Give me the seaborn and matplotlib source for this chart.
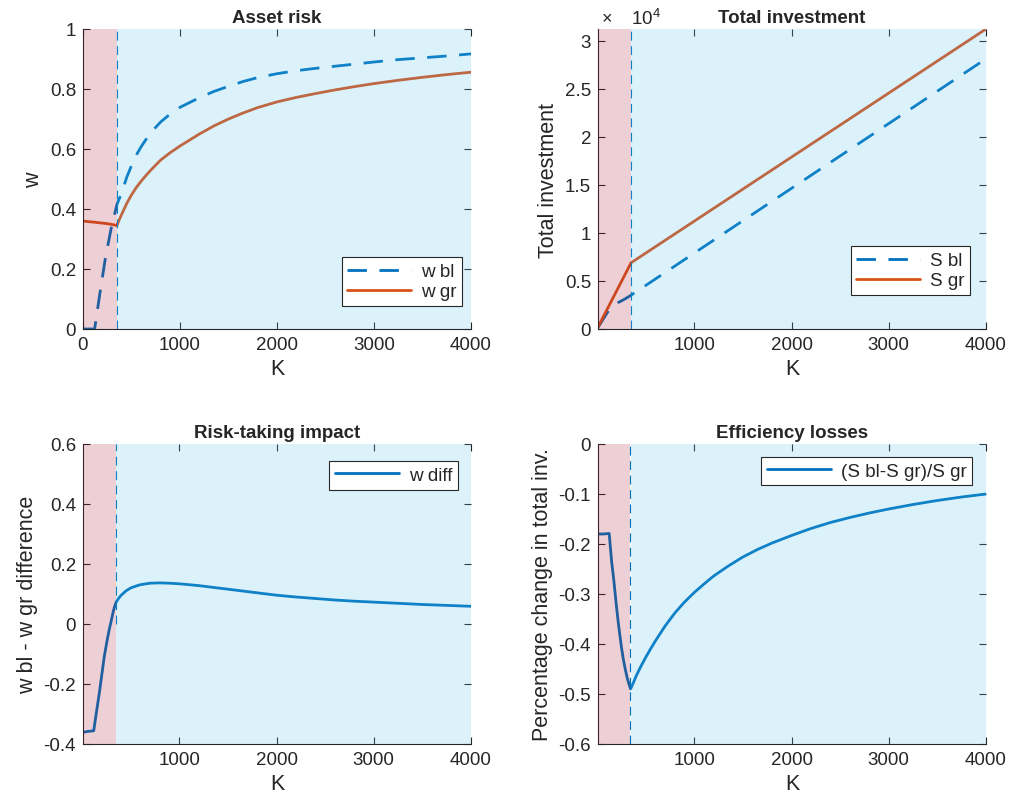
import matplotlib
matplotlib.use('Agg')
import numpy as np
import pandas as pd
import matplotlib.pyplot as plt
from matplotlib.ticker import FuncFormatter
import seaborn as sns

# ---- values ----
K_cut = 350

K_w = [0, 50, 120, 170, 230, 290, 350, 375, 400, 450, 500, 550, 600, 650, 700, 800, 900,
       1000, 1100, 1200, 1350, 1500, 1650, 1800, 2000, 2200, 2400, 2600, 2800, 3000,
       3250, 3500, 3750, 4000]
w_bl = [0, 0, 0, 0.11, 0.235, 0.335, 0.415, 0.435, 0.455, 0.505, 0.545, 0.58, 0.608, 0.632,
        0.655, 0.69, 0.717, 0.739, 0.755, 0.771, 0.792, 0.809, 0.825, 0.838, 0.851, 0.861,
        0.869, 0.876, 0.883, 0.89, 0.898, 0.904, 0.91, 0.917]
w_gr = [0.36, 0.358, 0.356, 0.354, 0.352, 0.349, 0.345, 0.365, 0.383, 0.418, 0.447, 0.472,
        0.493, 0.512, 0.53, 0.563, 0.588, 0.61, 0.63, 0.65, 0.677, 0.7, 0.72, 0.738,
        0.757, 0.772, 0.785, 0.797, 0.808, 0.818, 0.829, 0.839, 0.848, 0.856]

K_Sgr = [10, 350, 4000]
S_gr = [200, 6900, 31250]
K_Sbl = [10, 125, 170, 220, 270, 310, 350, 4000]
S_bl = [160, 2020, 2460, 2770, 3030, 3270, 3520, 28150]

K_d = [10, 60, 120, 150, 180, 205, 230, 255, 280, 300, 320, 335, 350, 375, 400, 450, 500,
       550, 600, 700, 800, 900, 1000, 1200, 1350, 1500, 1650, 1800, 2000, 2200, 2400, 2600,
       2800, 3000, 3250, 3500, 3750, 4000]
w_diff = [-0.361, -0.358, -0.356, -0.29, -0.225, -0.165, -0.106, -0.06, -0.018, 0.01, 0.04,
          0.058, 0.072, 0.085, 0.095, 0.11, 0.12, 0.126, 0.131, 0.136, 0.137, 0.136, 0.134,
          0.128, 0.122, 0.116, 0.11, 0.104, 0.096, 0.09, 0.085, 0.08, 0.076, 0.073, 0.069,
          0.065, 0.062, 0.059]

K_r = [10, 60, 125, 150, 170, 200, 220, 250, 270, 290, 310, 330, 345, 375, 400, 450, 500,
       550, 600, 650, 700, 800, 900, 1000, 1100, 1200, 1350, 1500, 1650, 1800, 2000, 2200,
       2400, 2600, 2800, 3000, 3250, 3500, 3750, 4000]
ratio = [-0.18, -0.18, -0.179, -0.235, -0.268, -0.325, -0.36, -0.405, -0.43, -0.45, -0.468,
         -0.481, -0.49, -0.477, -0.465, -0.445, -0.427, -0.41, -0.394, -0.379, -0.364,
         -0.338, -0.316, -0.297, -0.28, -0.264, -0.244, -0.226, -0.211, -0.198, -0.183,
         -0.169, -0.157, -0.147, -0.138, -0.13, -0.121, -0.113, -0.106, -0.10]

BLUE = '#0072BD'
RED = '#D95319'
PINK = '#A2142F'
LBLUE = '#4DBEEE'
DARK = '#262626'

sns.set_style('ticks')
plt.rcParams['font.family'] = ['Liberation Sans', 'DejaVu Sans']
plt.rcParams['mathtext.fontset'] = 'custom'
plt.rcParams['mathtext.rm'] = 'Liberation Sans'
plt.rcParams['axes.unicode_minus'] = False

fig = plt.figure(figsize=(10.1, 8.12), dpi=100)
W, H = 1010, 812


def make_ax(left, top):
    return fig.add_axes([left / W, 1 - (top + 300) / H, 388 / W, 300 / H])


ax1 = make_ax(83, 30)
ax2 = make_ax(598, 30)
ax3 = make_ax(83, 445)
ax4 = make_ax(598, 445)


def gnum(v, scale=1.0):
    v = round(v / scale, 6)
    if v == 0:
        v = 0.0
    return '%g' % v


gfmt = FuncFormatter(lambda v, p: gnum(v))
dash = (0, (7, 4.5))
vdash = (0, (8, 5))


def style(ax, xlim, xticks, ylim, yticks, title, ylabel, fmt=gfmt):
    ax.set_xlim(xlim)
    ax.set_ylim(ylim)
    ax.set_xticks(xticks)
    ax.set_yticks(yticks)
    ax.yaxis.set_major_formatter(fmt)
    ax.xaxis.set_major_formatter(gfmt)
    ax.tick_params(direction='in', length=5, width=0.8, colors=DARK, labelsize=13.5,
                   top=True, right=True, pad=5)
    for s in ['top', 'right']:
        ax.spines[s].set_visible(False)
    for s in ['left', 'bottom']:
        ax.spines[s].set_color(DARK)
        ax.spines[s].set_linewidth(0.8)
    ax.set_xlabel('K', fontsize=15.5, color=DARK, labelpad=4)
    ax.set_ylabel(ylabel, fontsize=15.5, color=DARK, labelpad=4)
    ax.set_title(title, fontsize=13.5, fontweight='bold', pad=5)


def regions(ax, x0, x1, x2, x3):
    ax.axvspan(x0, x1, color=PINK, alpha=0.2, lw=0, zorder=3)
    ax.axvspan(x2, x3, color=LBLUE, alpha=0.2, lw=0, zorder=3)


def legend(ax, loc, anchor):
    leg = ax.legend(loc=loc, bbox_to_anchor=anchor, fontsize=13.6, frameon=True, fancybox=False,
                    framealpha=1, edgecolor=DARK, handlelength=3.4, handletextpad=0.5,
                    borderpad=0.3, labelspacing=0.15, borderaxespad=0)
    leg.get_frame().set_linewidth(0.8)
    leg.set_zorder(10)


# Asset risk
sns.lineplot(x=K_w, y=w_bl, ax=ax1, color=BLUE, lw=2, linestyle=dash, label='w bl',
             sort=False, estimator=None)
sns.lineplot(x=K_w, y=w_gr, ax=ax1, color=RED, lw=2, label='w gr', sort=False, estimator=None)
ax1.axvline(K_cut, color=BLUE, lw=0.8, linestyle=vdash, zorder=2)
regions(ax1, 0, K_cut, K_cut, 4000)
style(ax1, (0, 4000), [0, 1000, 2000, 3000, 4000], (0, 1), np.arange(0, 1.01, 0.2),
      'Asset risk', 'w')
legend(ax1, 'lower right', (0.977, 0.077))

# Total investment
sns.lineplot(x=K_Sbl, y=S_bl, ax=ax2, color=BLUE, lw=2, linestyle=dash, label='S bl',
             sort=False, estimator=None)
sns.lineplot(x=K_Sgr, y=S_gr, ax=ax2, color=RED, lw=2, label='S gr', sort=False, estimator=None)
ax2.axvline(K_cut, color=BLUE, lw=0.8, linestyle=vdash, zorder=2)
regions(ax2, 10, K_cut, K_cut, 4000)
style(ax2, (10, 4000), [1000, 2000, 3000, 4000], (0, 31250), np.arange(0, 30001, 5000),
      'Total investment', 'Total investment',
      fmt=FuncFormatter(lambda v, p: gnum(v, 1e4)))
ax2.text(0.01, 1.005, '×', transform=ax2.transAxes, ha='left', va='bottom', fontsize=13,
         color=DARK)
ax2.text(0.085, 1.005, r'$\mathregular{10^{4}}$', transform=ax2.transAxes, ha='left',
         va='bottom', fontsize=13.5, color=DARK)
legend(ax2, 'lower right', (0.959, 0.113))

# Risk-taking impact
sns.lineplot(x=K_d, y=w_diff, ax=ax3, color=BLUE, lw=2, label='w diff', sort=False,
             estimator=None)
ax3.vlines(K_cut, 0, 0.6, color=BLUE, lw=0.8, linestyle=vdash, zorder=2)
regions(ax3, 10, K_cut, K_cut, 4000)
style(ax3, (10, 4000), [1000, 2000, 3000, 4000], (-0.4, 0.6), np.arange(-0.4, 0.61, 0.2),
      'Risk-taking impact', 'w bl - w gr difference')
legend(ax3, 'upper right', (0.966, 0.943))

# Efficiency losses
sns.lineplot(x=K_r, y=ratio, ax=ax4, color=BLUE, lw=2, label='(S bl-S gr)/S gr', sort=False,
             estimator=None)
ax4.axvline(343, color=BLUE, lw=0.8, linestyle=vdash, zorder=2)
regions(ax4, 10, 336, 352, 4000)
style(ax4, (10, 4000), [1000, 2000, 3000, 4000], (-0.6, 0), np.arange(-0.6, 0.01, 0.1),
      'Efficiency losses', 'Percentage change in total inv.')
legend(ax4, 'upper right', (0.964, 0.957))

fig.savefig('out.png', dpi=100, facecolor='white')
